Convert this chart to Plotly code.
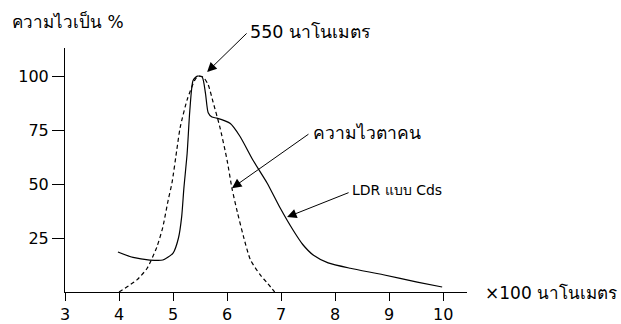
import plotly.graph_objects as go

# Data
eye_x = [4.0, 4.33, 4.52, 4.70, 4.81, 4.91, 4.98, 5.07, 5.13, 5.26, 5.41, 5.48, 5.56, 5.65, 5.74, 5.87, 6.0, 6.09, 6.19, 6.3, 6.43, 6.61, 6.75, 6.88]
eye_y = [0, 5.6, 11, 20.8, 30, 42.6, 50.5, 66, 76, 89, 98.5, 100, 99.5, 96, 88, 76, 61, 48, 37, 26, 15, 8, 4, 0]

ldr_x = [3.98, 4.26, 4.57, 4.81, 5.0, 5.1, 5.16, 5.2, 5.26, 5.31, 5.37, 5.45, 5.54, 5.6, 5.65, 5.72, 5.81, 6.06, 6.24, 6.48, 6.74, 6.98, 7.22, 7.4, 7.6, 7.87, 8.28, 8.89, 9.52, 9.98]
ldr_y = [18.5, 16, 14.8, 14.8, 18, 25, 35, 48, 64, 84, 98, 100, 99.5, 92, 83, 81, 80.5, 78, 72, 61, 50.5, 39, 28.7, 22, 17, 13.5, 11, 8, 4.6, 2.3]

x_ticks = [3, 4, 5, 6, 7, 8, 9, 10]
y_ticks = [25, 50, 75, 100]

FONT = "DejaVu Sans, Noto Sans, sans-serif"

fig = go.Figure()
fig.add_trace(go.Scatter(x=eye_x, y=eye_y, mode="lines",
                         line=dict(color="black", width=1.2, dash="4px,3px", shape="spline", smoothing=0.6),
                         showlegend=False, hoverinfo="skip"))
fig.add_trace(go.Scatter(x=ldr_x, y=ldr_y, mode="lines",
                         line=dict(color="black", width=1.2, shape="spline", smoothing=0.6),
                         showlegend=False, hoverinfo="skip"))

arrows = [
    dict(x=5.63, y=101.9, ax=41, ay=-40),
    dict(x=6.09, y=48.1, ax=78, ay=-55),
    dict(x=7.11, y=34.7, ax=63, ay=-25),
]
for a in arrows:
    fig.add_annotation(x=a["x"], y=a["y"], ax=a["ax"], ay=a["ay"], xref="x", yref="y",
                       text="", showarrow=True, arrowhead=2, arrowsize=1.9, arrowwidth=1,
                       arrowcolor="black")

# label text, paper-x, paper-y, font size  (paper = plot area fraction)
labels = [
    ("550 นาโนเมตร", 0.455, 1.066, 17.5),
    ("ความไวตาคน", 0.612, 0.652, 17.5),
    ("LDR แบบ Cds", 0.709, 0.418, 14),
    ("×100 นาโนเมตร", 1.04, -0.004, 17),
    ("ความไวเป็น %", -0.137, 1.107, 17),
]
for t, x, y, s in labels:
    fig.add_annotation(x=x, y=y, xref="paper", yref="paper", text=t, showarrow=False,
                       xanchor="left", yanchor="middle",
                       font=dict(family=FONT, size=s, color="black"))

fig.update_layout(
    width=621, height=324,
    margin=dict(l=65, r=154, t=48, b=32),
    paper_bgcolor="white", plot_bgcolor="white",
    font=dict(family=FONT, size=16, color="black"),
)
fig.update_xaxes(range=[3, 10.44], tickvals=x_ticks, ticktext=[str(v) for v in x_ticks],
                 showline=True, linecolor="black", linewidth=1, showgrid=False, zeroline=False,
                 ticks="outside", ticklen=8, tickcolor="black", tickfont=dict(size=16),
                 automargin=False)
fig.update_yaxes(range=[0, 113], tickvals=y_ticks, ticktext=[str(v) for v in y_ticks],
                 showline=True, linecolor="black", linewidth=1, showgrid=False, zeroline=False,
                 ticks="outside", ticklen=12, tickcolor="black", tickfont=dict(size=16),
                 automargin=False)

fig.write_html("out.html", config={"displayModeBar": False},
               post_script="document.body.style.margin='0';document.body.style.overflow='hidden';")
